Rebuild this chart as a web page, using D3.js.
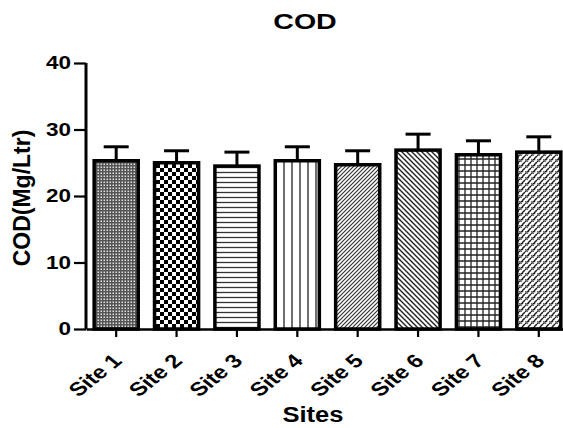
<!DOCTYPE html>
<html>
<head>
<meta charset="UTF-8">
<script src="https://cdn.jsdelivr.net/npm/d3@7"></script>
<style>
  body { margin: 0; background: #fff; }
  svg text { font-family: "Liberation Sans", Arial, sans-serif; font-weight: bold; fill: #000; }
</style>
</head>
<body>
<div id="chart"></div>
<script>
var sites = ["Site 1", "Site 2", "Site 3", "Site 4", "Site 5", "Site 6", "Site 7", "Site 8"];
var means = [25.3, 25.0, 24.5, 25.3, 24.7, 26.9, 26.2, 26.6];
var errors = [2.1, 1.8, 2.1, 2.1, 2.1, 2.4, 2.1, 2.3];
var yTicks = [0, 10, 20, 30, 40];

var width = 563, height = 428;
var margin = {top: 63, right: -2, bottom: 99, left: 86};
var stretch = 1.25; // the original picture is a bit wider than tall

var svg = d3.select("#chart").append("svg")
  .attr("width", width)
  .attr("height", height);

var defs = svg.append("defs");

// hatch patterns, one per site
function pat(id, w, h, draw) {
  var p = defs.append("pattern")
    .attr("id", id)
    .attr("patternUnits", "userSpaceOnUse")
    .attr("width", w).attr("height", h);
  p.append("rect").attr("width", w).attr("height", h).attr("fill", "#fff");
  draw(p);
}
pat("p0", 3, 3, function(p) {
  p.append("rect").attr("width", 3).attr("height", 3).attr("fill", "#555");
  p.append("rect").attr("x", 1.5).attr("y", 1.5).attr("width", 1.5).attr("height", 1.5).attr("fill", "#ddd");
});
pat("p1", 8, 8, function(p) {
  p.append("rect").attr("width", 4).attr("height", 4).attr("fill", "#000");
  p.append("rect").attr("x", 4).attr("y", 4).attr("width", 4).attr("height", 4).attr("fill", "#000");
});
pat("p2", 5, 5, function(p) {
  p.append("line").attr("x1", 0).attr("x2", 5).attr("y1", 2.5).attr("y2", 2.5)
    .attr("stroke", "#333").attr("stroke-width", 1.3);
});
pat("p3", 8, 8, function(p) {
  p.append("line").attr("x1", 4).attr("x2", 4).attr("y1", 0).attr("y2", 8)
    .attr("stroke", "#222").attr("stroke-width", 1.3);
});
pat("p4", 4, 4, function(p) {
  p.append("path").attr("d", "M-1,1 L1,-1 M0,4 L4,0 M3,5 L5,3")
    .attr("stroke", "#333").attr("stroke-width", 1.2);
});
pat("p5", 5, 5, function(p) {
  p.append("path").attr("d", "M-1,4 L1,6 M0,0 L5,5 M4,-1 L6,1")
    .attr("stroke", "#222").attr("stroke-width", 1.4);
});
pat("p6", 6, 6, function(p) {
  p.append("path").attr("d", "M0,3 L6,3 M3,0 L3,6")
    .attr("stroke", "#222").attr("stroke-width", 1.3);
});
pat("p7", 6, 6, function(p) {
  p.append("path").attr("d", "M0,3 L3,0 M3,6 L6,3 M1,4 L-1,2")
    .attr("stroke", "#222").attr("stroke-width", 1.5);
  p.append("path").attr("d", "M3,3 L6,6")
    .attr("stroke", "#666").attr("stroke-width", 1);
});

var x = d3.scaleBand()
  .domain(sites)
  .range([margin.left, width - margin.right + 4])
  .paddingInner(0.27)
  .paddingOuter(0.135);

var y = d3.scaleLinear()
  .domain([0, 40])
  .range([height - margin.bottom, margin.top]);

// bars
svg.selectAll(".bar")
  .data(sites)
  .enter().append("rect")
  .attr("class", "bar")
  .attr("x", function(d) { return x(d); })
  .attr("width", x.bandwidth())
  .attr("y", function(d, i) { return y(means[i]); })
  .attr("height", function(d, i) { return y(0) - y(means[i]); })
  .attr("fill", function(d, i) { return "url(#p" + i + ")"; })
  .attr("stroke", "#000")
  .attr("stroke-width", 3.5);

// error bars (upper only)
var eb = svg.selectAll(".err")
  .data(sites)
  .enter().append("g")
  .attr("class", "err")
  .attr("stroke", "#000")
  .attr("stroke-width", 3);
eb.append("line")
  .attr("x1", function(d) { return x(d) + x.bandwidth() / 2; })
  .attr("x2", function(d) { return x(d) + x.bandwidth() / 2; })
  .attr("y1", function(d, i) { return y(means[i]); })
  .attr("y2", function(d, i) { return y(means[i] + errors[i]); });
eb.append("line")
  .attr("x1", function(d) { return x(d) + x.bandwidth() / 2 - 12.5; })
  .attr("x2", function(d) { return x(d) + x.bandwidth() / 2 + 12.5; })
  .attr("y1", function(d, i) { return y(means[i] + errors[i]); })
  .attr("y2", function(d, i) { return y(means[i] + errors[i]); });

// y axis
var yAxis = svg.append("g")
  .attr("transform", "translate(" + margin.left + ",0)")
  .call(d3.axisLeft(y).tickValues(yTicks).tickSize(12).tickPadding(3));
yAxis.select(".domain").attr("stroke-width", 3).attr("d", "M0," + y(40) + "V" + y(0));
yAxis.selectAll(".tick line").attr("stroke-width", 2.2);
yAxis.selectAll(".tick text")
  .attr("font-size", 18)
  .attr("x", null)
  .attr("transform", "translate(-15,0) scale(" + stretch + ",1)");

// x axis
var xAxis = svg.append("g")
  .attr("transform", "translate(0," + y(0) + ")")
  .call(d3.axisBottom(x).tickSize(8).tickSizeOuter(0));
xAxis.select(".domain").attr("stroke-width", 2.5);
xAxis.selectAll(".tick line").attr("stroke-width", 2.2);
xAxis.selectAll(".tick text")
  .attr("font-size", 19)
  .attr("text-anchor", "end")
  .attr("y", null)
  .attr("dy", null)
  .attr("transform", "translate(7,33) scale(" + stretch + ",1) rotate(-45)");

// titles
svg.append("text")
  .attr("transform", "translate(305,29) scale(1.3,1)")
  .attr("text-anchor", "middle")
  .attr("font-size", 22)
  .text("COD");

svg.append("text")
  .attr("transform", "translate(313,422) scale(1.16,1)")
  .attr("text-anchor", "middle")
  .attr("font-size", 22)
  .text("Sites");

svg.append("text")
  .attr("transform", "translate(30,198) rotate(-90)")
  .attr("text-anchor", "middle")
  .attr("font-size", 23)
  .text("COD(Mg/Ltr)");
</script>
</body>
</html>
